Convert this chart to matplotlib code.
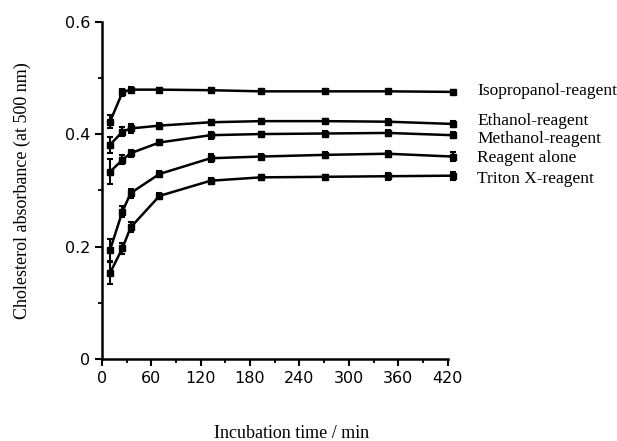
import matplotlib.pyplot as plt

# sampling times (min)
times = [10, 25, 35, 70, 132, 193, 271, 347, 426]

labels = ["Isopropanol-reagent", "Ethanol-reagent", "Methanol-reagent",
          "Reagent alone", "Triton X-reagent"]

iso = [0.422, 0.474, 0.479, 0.479, 0.478, 0.476, 0.476, 0.476, 0.475]
eth = [0.381, 0.404, 0.410, 0.415, 0.421, 0.423, 0.423, 0.422, 0.418]
meth = [0.333, 0.354, 0.366, 0.385, 0.398, 0.400, 0.401, 0.402, 0.398]
alone = [0.194, 0.262, 0.295, 0.329, 0.357, 0.360, 0.363, 0.365, 0.360]
triton = [0.153, 0.197, 0.234, 0.290, 0.317, 0.323, 0.324, 0.325, 0.326]

iso_err = [0.012, 0.006, 0.004, 0.003, 0.003, 0.003, 0.003, 0.003, 0.004]
eth_err = [0.014, 0.008, 0.008, 0.004, 0.004, 0.004, 0.004, 0.005, 0.005]
meth_err = [0.022, 0.008, 0.006, 0.005, 0.006, 0.004, 0.004, 0.005, 0.005]
alone_err = [0.020, 0.010, 0.008, 0.006, 0.007, 0.005, 0.005, 0.005, 0.008]
triton_err = [0.020, 0.010, 0.009, 0.006, 0.004, 0.004, 0.003, 0.006, 0.007]

label_y = [0.477, 0.423, 0.392, 0.357, 0.320]

series = [iso, eth, meth, alone, triton]
errors = [iso_err, eth_err, meth_err, alone_err, triton_err]

fig = plt.figure(figsize=(6.17, 4.41), dpi=100)
ax = fig.add_axes([0.165, 0.186, 0.614, 0.765])

for vals, err in zip(series, errors):
    ax.errorbar(times, vals, yerr=err, color='black', lw=1.8, marker='s',
                ms=4.5, capsize=2.5, elinewidth=1.5, capthick=1.5)

for lab, y in zip(labels, label_y):
    ax.text(456, y, lab, family='Liberation Serif', fontsize=12.5,
            va='center', ha='left', clip_on=False)

ax.set_xlim(0, 460)
ax.set_ylim(0, 0.6)
ax.spines['top'].set_visible(False)
ax.spines['right'].set_visible(False)
ax.spines['bottom'].set_bounds(0, 420)
ax.spines['left'].set_linewidth(1.8)
ax.spines['bottom'].set_linewidth(1.8)

ax.set_xticks(range(0, 421, 60))
ax.set_xticks(range(30, 421, 60), minor=True)
ax.set_yticks([0, 0.2, 0.4, 0.6])
ax.set_yticklabels(['0', '0.2', '0.4', '0.6'])
ax.set_yticks([0.1, 0.3, 0.5], minor=True)
ax.tick_params(which='major', direction='out', length=5, width=1.5,
               labelsize=11.5)
ax.tick_params(which='minor', direction='out', length=3, width=1.3)
for t in ax.get_xticklabels() + ax.get_yticklabels():
    t.set_family('DejaVu Sans')
    t.set_weight('medium')

ax.set_xlabel("Incubation time / min", family='Liberation Serif',
              fontsize=13, labelpad=28)
ax.set_ylabel("Cholesterol absorbance (at 500 nm)", family='Liberation Serif',
              fontsize=13, labelpad=24)

plt.savefig("out.png")
